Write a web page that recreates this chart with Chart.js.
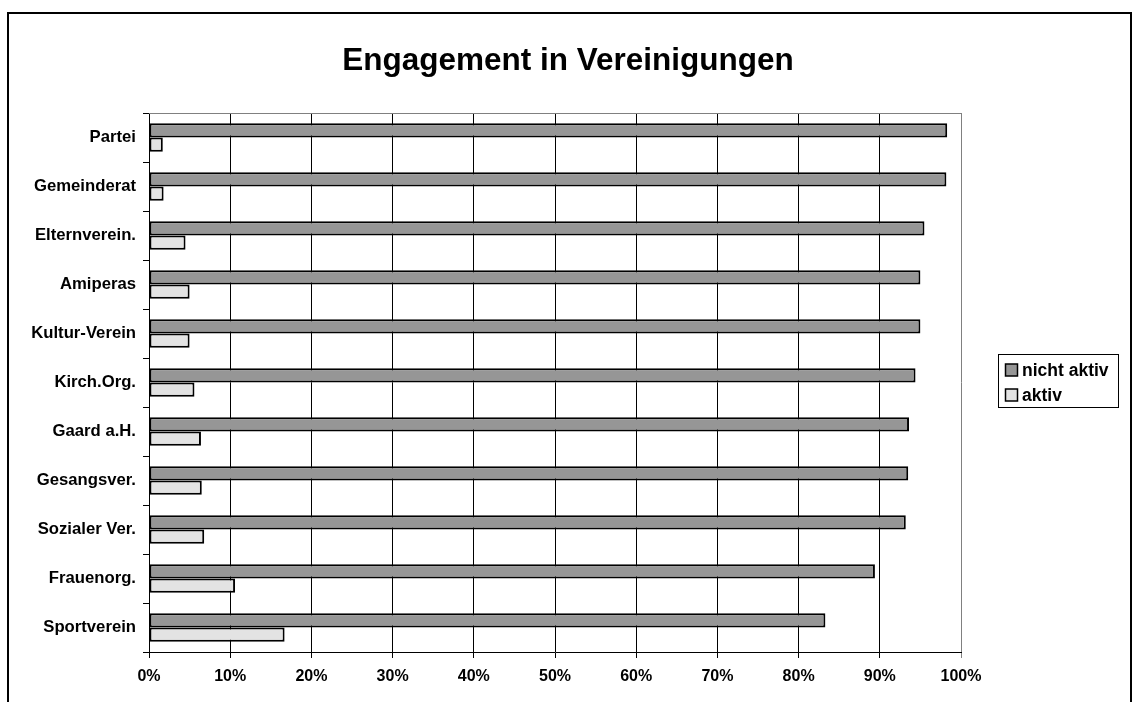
<!DOCTYPE html>
<html>
<head>
<meta charset="utf-8">
<title>Engagement in Vereinigungen</title>
<script src="https://cdn.jsdelivr.net/npm/chart.js@4/dist/chart.umd.min.js"></script>
<style>
    html, body { margin: 0; padding: 0; background: #fff; overflow: hidden; }
    #frame {
        position: absolute; left: 7px; top: 12px; width: 1125px; height: 800px;
        border: 2px solid #000; box-sizing: border-box;
    }
    #chart { position: absolute; left: 0; top: 0; }
</style>
</head>
<body>
<div id="frame"></div>
<canvas id="chart" width="1138" height="702"></canvas>
<script>
// Data
const title = 'Engagement in Vereinigungen';
const categories = ['Partei', 'Gemeinderat', 'Elternverein.', 'Amiperas', 'Kultur-Verein',
    'Kirch.Org.', 'Gaard a.H.', 'Gesangsver.', 'Sozialer Ver.', 'Frauenorg.', 'Sportverein'];
const nichtAktiv = [98.3, 98.2, 95.5, 95.0, 95.0, 94.4, 93.6, 93.5, 93.2, 89.4, 83.3];
const aktiv = [1.7, 1.8, 4.5, 5.0, 5.0, 5.6, 6.4, 6.5, 6.8, 10.6, 16.7];
const seriesNames = ['nicht aktiv', 'aktiv'];
const xTicks = [0, 10, 20, 30, 40, 50, 60, 70, 80, 90, 100];

const FONT = '"Liberation Sans", Arial, sans-serif';

// title, plot border and legend drawn by hand (Excel style)
const excelDecor = {
    id: 'excelDecor',
    beforeDatasetsDraw(chart) {
        const { ctx, chartArea: a } = chart;
        ctx.save();
        ctx.strokeStyle = '#808080';
        ctx.lineWidth = 1;
        ctx.beginPath();
        ctx.moveTo(a.left, a.top + 0.5);
        ctx.lineTo(a.right, a.top + 0.5);
        ctx.stroke();
        ctx.restore();
    },
    afterDraw(chart) {
        const { ctx } = chart;
        ctx.save();
        // title
        ctx.fillStyle = '#000';
        ctx.font = 'bold 31.5px ' + FONT;
        ctx.textAlign = 'center';
        ctx.textBaseline = 'alphabetic';
        ctx.fillText(title, 568, 70);

        // legend box
        ctx.strokeStyle = '#000';
        ctx.lineWidth = 1;
        ctx.strokeRect(998.5, 354.5, 120, 53);
        ctx.font = 'bold 17.5px ' + FONT;
        ctx.textAlign = 'left';
        ctx.textBaseline = 'middle';
        const rows = [370, 395];
        chart.data.datasets.forEach((ds, i) => {
            const y = rows[i];
            ctx.fillStyle = ds.backgroundColor;
            ctx.fillRect(1005.5, y - 6, 12, 12);
            ctx.strokeStyle = '#000';
            ctx.lineWidth = 1.5;
            ctx.strokeRect(1005.5, y - 6, 12, 12);
            ctx.fillStyle = '#000';
            ctx.fillText(ds.label, 1022, y + 1);
        });
        ctx.restore();
    }
};

new Chart(document.getElementById('chart'), {
    type: 'bar',
    data: {
        labels: categories,
        datasets: [{
            label: seriesNames[0],
            data: nichtAktiv,
            backgroundColor: '#969696',
            borderColor: '#000',
            borderWidth: 2,
            borderSkipped: false
        }, {
            label: seriesNames[1],
            data: aktiv,
            backgroundColor: '#e3e3e3',
            borderColor: '#000',
            borderWidth: 2,
            borderSkipped: false
        }]
    },
    options: {
        indexAxis: 'y',
        responsive: false,
        animation: false,
        layout: { padding: { left: 0, top: 113, right: 177, bottom: 0 } },
        datasets: { bar: { barPercentage: 1.0, categoryPercentage: 0.58 } },
        plugins: {
            legend: { display: false },
            title: { display: false },
            tooltip: { enabled: false }
        },
        scales: {
            x: {
                min: 0,
                max: 100,
                afterFit: s => { s.height = 50; },
                afterBuildTicks: s => { s.ticks = xTicks.map(v => ({ value: v })); },
                ticks: {
                    callback: v => v + '%',
                    color: '#000',
                    padding: 9,
                    maxRotation: 0,
                    font: { family: FONT, size: 16, weight: 'bold' }
                },
                grid: {
                    color: c => (c.tick && c.tick.value === 100) ? '#808080' : '#000',
                    lineWidth: 1,
                    tickLength: 6
                },
                border: { display: true, color: '#000', width: 1 }
            },
            y: {
                afterFit: s => { s.width = 149; },
                ticks: {
                    color: '#000',
                    padding: 7,
                    font: { family: FONT, size: 16.7, weight: 'bold' }
                },
                grid: {
                    offset: true,
                    drawOnChartArea: false,
                    color: '#000',
                    lineWidth: 1,
                    tickLength: 6
                },
                border: { display: true, color: '#000', width: 1 }
            }
        }
    },
    plugins: [excelDecor]
});
</script>
</body>
</html>
